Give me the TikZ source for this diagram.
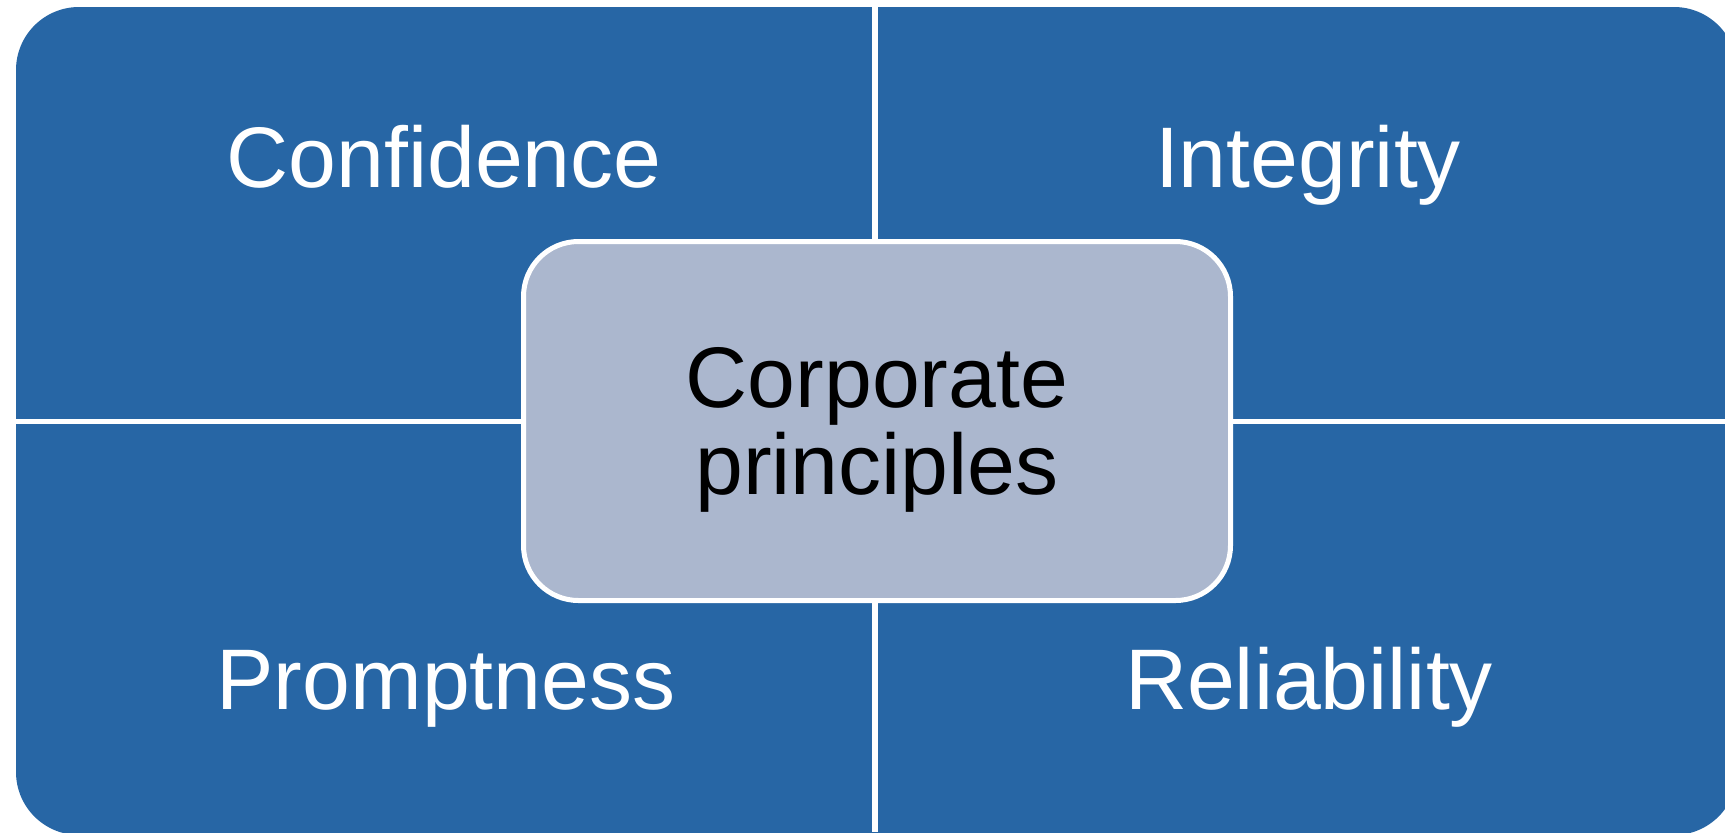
\documentclass[tikz,border=0pt]{standalone}
\usepackage{fontspec}
\setmainfont{Liberation Sans}
\definecolor{quadblue}{RGB}{39,102,165}
\definecolor{hubgray}{RGB}{171,183,206}
\tikzset{every picture/.style={line width=0.75pt}}
\tikzset{
  quadlabel/.style={anchor=base, inner sep=0pt, text=white, font=\fontsize{43}{43}\selectfont},
  hubbox/.style={draw=white, line width=2.5pt, fill=hubgray, rounded corners=27.5pt,
    minimum width=353.5pt, minimum height=179.5pt, align=center, text=black,
    font=\fontsize{43}{43.5}\selectfont}
}
\begin{document}
\begin{tikzpicture}[x=0.5pt,y=0.5pt,yscale=-1,xscale=1]
	\useasboundingbox (0,0) rectangle (1725,832); %picture is 1725 x 832

	%Shape: Rounded Rect [id:quadrants]
	\fill [quadblue, rounded corners=31.5pt] (16,7) rectangle (1737,835) ;
	%Straight Lines [id:vsep]
	\draw [white, line width=3pt]   (875,0) -- (875,832) ;
	%Straight Lines [id:hsep]
	\draw [white, line width=2.5pt]   (0,421.5) -- (1725,421.5) ;

	% Text Node
	\draw (444,187) node [quadlabel] (confidence)  {Confidence};
	% Text Node
	\draw (1308,187) node [quadlabel] (integrity)  {Integrity};
	% Text Node
	\draw (446,709) node [quadlabel] (promptness)  {Promptness};
	% Text Node
	\draw (1309,709) node [quadlabel] (reliability)  {Reliability};
	% Center Box
	\draw (877,421) node [hubbox] (hub)  {\rule{0pt}{38.5pt}Corporate\\principles};
\end{tikzpicture}
\end{document}
